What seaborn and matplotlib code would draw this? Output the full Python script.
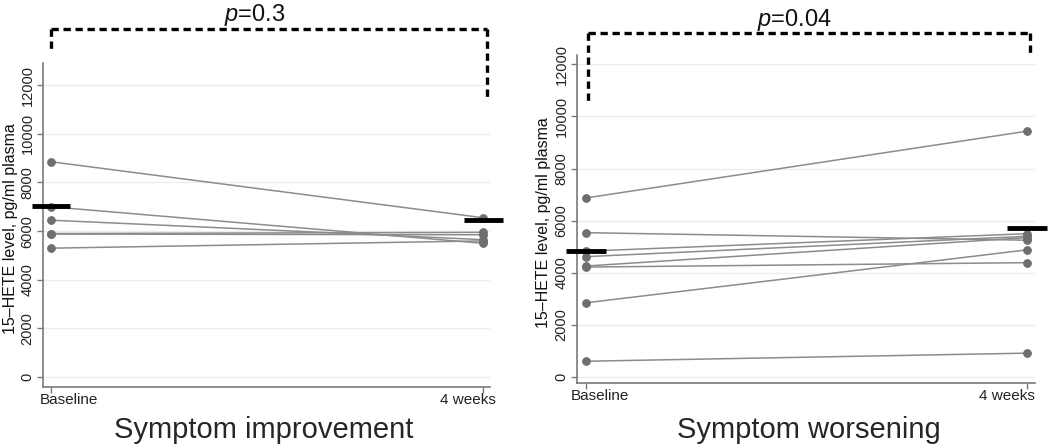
import matplotlib
matplotlib.use("Agg")
import matplotlib.pyplot as plt
import matplotlib.transforms as mtransforms
import seaborn as sns
import pandas as pd

# ---- data ----
timepoints = ["Baseline", "4 weeks"]
imp_baseline = [8850, 7000, 6450, 5900, 5880, 5300]
imp_4weeks = [6550, 5500, 5650, 5950, 5850, 5600]
imp_means = [7050, 6450]
imp_p = "0.3"

wor_baseline = [6870, 5540, 4830, 4620, 4260, 4220, 2850, 610]
wor_4weeks = [9430, 5250, 5500, 5400, 5350, 4390, 4880, 920]
wor_means = [4830, 5720]
wor_p = "0.04"

yticks = [0, 2000, 4000, 6000, 8000, 10000, 12000]
group_titles = ["Symptom improvement", "Symptom worsening"]
ylabel = "15\u2013HETE level, pg/ml plasma"

sns.set_theme(style="white")
plt.rcParams["font.family"] = ["Liberation Sans", "DejaVu Sans"]
plt.rcParams["mathtext.fontset"] = "custom"
plt.rcParams["mathtext.it"] = "Liberation Sans:italic"
plt.rcParams["mathtext.rm"] = "Liberation Sans"


def long_df(b, w):
    rows = []
    for i, (v0, v1) in enumerate(zip(b, w)):
        rows.append({"subject": i, "time": 0, "value": v0})
        rows.append({"subject": i, "time": 1, "value": v1})
    return pd.DataFrame(rows)


fig = plt.figure(figsize=(10.5, 4.45), dpi=100)
ax1 = fig.add_axes([0.041, 0.130, 0.4257, 0.728])
ax2 = fig.add_axes([0.5495, 0.139, 0.436, 0.737])

configs = [
    (ax1, imp_baseline, imp_4weeks, imp_means, imp_p, (-410, 12900), (-0.0185, 1.016),
     dict(h=14300, lv=13350, rv=11470, x0=0.0, x1=1.009, ty=15410, tx=0.472),
     (-11, 13)),
    (ax2, wor_baseline, wor_4weeks, wor_means, wor_p, (-230, 12345), (-0.02, 1.018),
     dict(h=13190, lv=10540, rv=12420, x0=0.005, x1=1.007, ty=14185, tx=0.474),
     (-15, 8)),
]

for ax, b, w, means, p, ylim, xlim, br, offs in configs:
    df = long_df(b, w)
    for y in yticks:
        ax.axhline(y, color="#ececec", lw=1.0, zorder=0)
    sns.lineplot(data=df, x="time", y="value", units="subject", estimator=None,
                 color="#8c8c8c", lw=1.1, marker="o", markersize=5.5,
                 markerfacecolor="#6e6e6e", markeredgecolor="#6e6e6e",
                 ax=ax, legend=False, zorder=3)
    for xi, m in zip([0, 1], means):
        ax.plot([xi - 0.045, xi + 0.045], [m, m], color="black", lw=3.5,
                solid_capstyle="butt", clip_on=False, zorder=5)
    ax.set_ylim(*ylim)
    ax.set_xlim(*xlim)
    ax.set_yticks(yticks)
    ax.set_yticklabels([str(t) for t in yticks], rotation=90, va="center",
                       fontsize=10.5, color="#222222")
    ax.set_xticks([0, 1])
    ax.set_xticklabels(["", ""])
    base_tr = ax.get_xaxis_transform()
    for xi, lab, off, ha in zip([0, 1], timepoints, offs, ["left", "right"]):
        tr = base_tr + mtransforms.ScaledTranslation(off / 100, -13 / 100, fig.dpi_scale_trans)
        ax.text(xi, 0, lab, transform=tr, ha=ha, va="center", fontsize=11,
                color="#222222", clip_on=False)
    ax.set_xlabel("")
    ax.set_ylabel(ylabel, fontsize=11.5, color="#111111")
    ax.yaxis.set_label_coords(-0.056, 0.49)
    for s in ["top", "right"]:
        ax.spines[s].set_visible(False)
    for s in ["left", "bottom"]:
        ax.spines[s].set_color("#7a7a7a")
        ax.spines[s].set_linewidth(1.2)
    ax.tick_params(axis="both", which="major", length=4, width=1.0,
                   color="#7a7a7a", direction="out", bottom=True, left=True, pad=2)
    # significance bracket
    ls = (0, (2.2, 1.4))
    ax.plot([br["x0"], br["x1"]], [br["h"], br["h"]], color="black", lw=2.4,
            ls=ls, clip_on=False)
    ax.plot([br["x0"], br["x0"]], [br["h"], br["lv"]], color="black", lw=2.4,
            ls=ls, clip_on=False)
    ax.plot([br["x1"], br["x1"]], [br["h"], br["rv"]], color="black", lw=2.4,
            ls=ls, clip_on=False)
    ax.text(br["tx"], br["ty"], r"$p$=" + p, ha="center", va="top",
            fontsize=17, color="#111111", clip_on=False)

fig.text(0.251, 0.034, group_titles[0], ha="center", va="center", fontsize=21)
fig.text(0.77, 0.034, group_titles[1], ha="center", va="center", fontsize=21)

fig.savefig("out.png", dpi=100, facecolor="white")
